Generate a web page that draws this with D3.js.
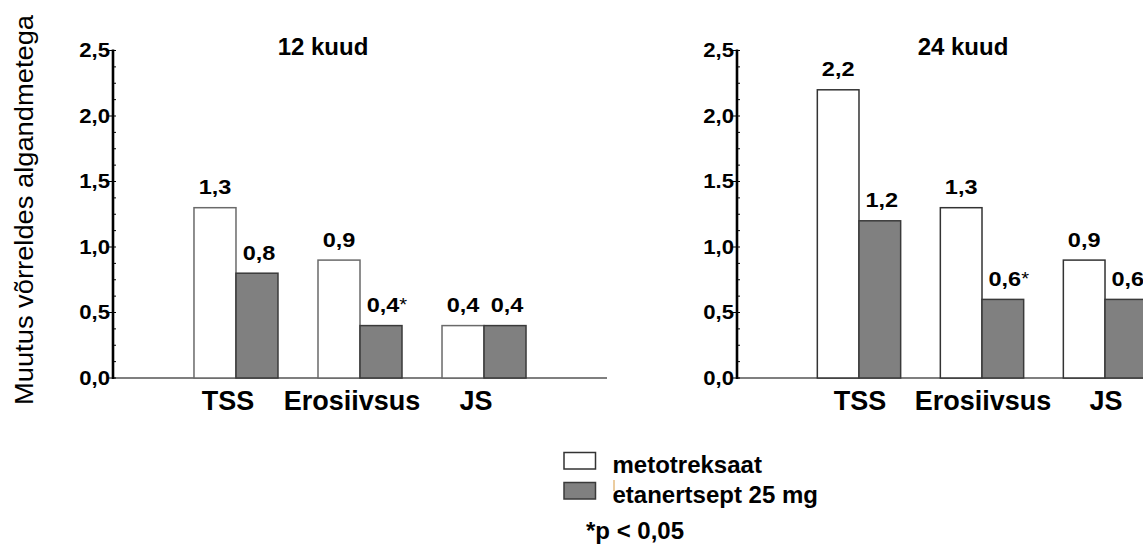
<!DOCTYPE html>
<html>
<head>
<meta charset="utf-8">
<script src="https://cdn.jsdelivr.net/npm/d3@7"></script>
<style>
  html, body { margin: 0; padding: 0; background: #fff; }
  svg { display: block; font-family: "Liberation Sans", Arial, sans-serif; }
</style>
</head>
<body>
<svg id="chart" width="1143" height="550"></svg>
<script>
// ---- data ----
const categories = ["TSS", "Erosiivsus", "JS"];
const seriesNames = ["metotreksaat", "etanertsept 25 mg"];
const panelTitles = ["12 kuud", "24 kuud"];
const metotreksaat12 = [1.3, 0.9, 0.4];
const etanertsept12 = [0.8, 0.4, 0.4];
const metotreksaat24 = [2.2, 1.3, 0.9];
const etanertsept24 = [1.2, 0.6, 0.6];
const significant12 = [false, true, false];   // asterisk on etanertsept value
const significant24 = [false, true, false];
const tickLabels12 = ["0,0", "0,5", "1,0", "1,5", "2,0", "2,5"];
const tickLabels24 = ["0,0", "0,5", "1,0", "1.5", "2,0", "2,5"];
const tickValues = [0, 0.5, 1.0, 1.5, 2.0, 2.5];
const yAxisTitle = "Muutus võrreldes algandmetega";
const footnote = "*p < 0,05";

// ---- layout ----
const svg = d3.select("#chart");
const colors = ["#ffffff", "#808080"];

const y = d3.scaleLinear().domain([0, 2.5]).range([378, 50.5]);

const panels = [
  { title: panelTitles[0], a: metotreksaat12, b: etanertsept12, sig: significant12, ticks: tickLabels12,
    axisX: 113, rangeEnd: 607, baseEnd: 607, titleX: 323, catOffset: -8, whiteStroke: "#6a6a6a" },
  { title: panelTitles[1], a: metotreksaat24, b: etanertsept24, sig: significant24, ticks: tickLabels24,
    axisX: 737, rangeEnd: 1227, baseEnd: 1143, titleX: 963, catOffset: 1, whiteStroke: "#333" }
];

panels.forEach(p => {
  const g = svg.append("g");
  const x = d3.scaleBand().domain(categories).range([p.axisX, p.rangeEnd])
    .paddingInner(0.3226).paddingOuter(0.653);
  const xs = d3.scaleBand().domain([0, 1]).range([0, x.bandwidth()]);

  // baseline
  g.append("line").attr("x1", p.axisX).attr("x2", p.baseEnd)
    .attr("y1", y(0)).attr("y2", y(0)).attr("stroke", "#555").attr("stroke-width", 1.5);

  // bars
  const rows = categories.map((c, i) => ({ c, vals: [p.a[i], p.b[i]], sig: p.sig[i] }));
  rows.forEach(r => {
    r.vals.forEach((v, k) => {
      g.append("rect")
        .attr("x", x(r.c) + xs(k)).attr("y", y(v))
        .attr("width", xs.bandwidth()).attr("height", y(0) - y(v))
        .attr("fill", colors[k])
        .attr("stroke", k === 0 ? p.whiteStroke : "#3a3a3a")
        .attr("stroke-width", 1.5);
      // value label
      const cx = x(r.c) + xs(k) + xs.bandwidth() / 2 + (k === 1 ? 2 : 0);
      const lg = g.append("g").attr("transform", `translate(${cx},${y(v) - 13.5}) scale(1.12,1)`);
      const t = lg.append("text").attr("text-anchor", "middle")
        .attr("font-size", 21).attr("font-weight", "bold").attr("fill", "#000")
        .text(d3.format(".1f")(v).replace(".", ","));
      if (k === 1 && r.sig) {
        const w = t.node().getComputedTextLength();
        lg.append("text").attr("x", w / 2).attr("font-size", 18).attr("fill", "#000")
          .attr("dy", -1).text("*");
      }
    });
  });

  // y axis line
  g.append("line").attr("x1", p.axisX).attr("x2", p.axisX)
    .attr("y1", y(2.5) - 1).attr("y2", y(0) + 1).attr("stroke", "#000").attr("stroke-width", 2.6);

  // minor ticks (inside)
  const minor = d3.range(0, 21).map(i => i * 0.125);
  g.selectAll(null).data(minor).enter().append("line")
    .attr("x1", p.axisX).attr("x2", p.axisX + 3)
    .attr("y1", d => y(d)).attr("y2", d => y(d))
    .attr("stroke", "#000").attr("stroke-width", 1);
  // major ticks (outside) + labels
  tickValues.forEach((tv, i) => {
    g.append("line").attr("x1", p.axisX - 5).attr("x2", p.axisX)
      .attr("y1", y(tv)).attr("y2", y(tv)).attr("stroke", "#000").attr("stroke-width", 1);
    g.append("text")
      .attr("transform", `translate(${p.axisX - 3},${y(tv) + 6.5}) scale(1.08,1)`)
      .attr("text-anchor", "end").attr("font-size", 20.5).attr("font-weight", "bold")
      .attr("fill", "#000").text(p.ticks[i]);
  });

  // category labels
  categories.forEach(c => {
    g.append("text").attr("x", x(c) + x.bandwidth() / 2 + p.catOffset).attr("y", 409.5)
      .attr("text-anchor", "middle").attr("font-size", 27).attr("font-weight", "bold")
      .attr("fill", "#000").text(c);
  });

  // title
  g.append("text").attr("x", p.titleX).attr("y", 54.5).attr("text-anchor", "middle")
    .attr("font-size", 24).attr("font-weight", "bold").attr("fill", "#000").text(p.title);
});

// y axis title
svg.append("text")
  .attr("transform", "translate(33,210) rotate(-90)")
  .attr("text-anchor", "middle").attr("font-size", 25)
  .attr("textLength", 390).attr("lengthAdjust", "spacingAndGlyphs")
  .attr("fill", "#000").text(yAxisTitle);

// legend
const legend = svg.append("g");
const legendY = [452.5, 482.5];
seriesNames.forEach((name, i) => {
  legend.append("rect").attr("x", 564).attr("y", legendY[i])
    .attr("width", 31.5).attr("height", 16.5)
    .attr("fill", colors[i]).attr("stroke", i === 0 ? "#333" : "#3a3a3a").attr("stroke-width", 1.5);
  legend.append("text").attr("x", 612.5).attr("y", legendY[i] + 20.5)
    .attr("font-size", 24).attr("font-weight", "bold").attr("fill", "#000").text(name);
});
// small cursor artefact
legend.append("line").attr("x1", 614).attr("x2", 614).attr("y1", 480).attr("y2", 491)
  .attr("stroke", "#d89a40").attr("stroke-width", 1);

svg.append("text").attr("x", 586).attr("y", 538.5)
  .attr("font-size", 24).attr("font-weight", "bold").attr("fill", "#000").text(footnote);
</script>
</body>
</html>
